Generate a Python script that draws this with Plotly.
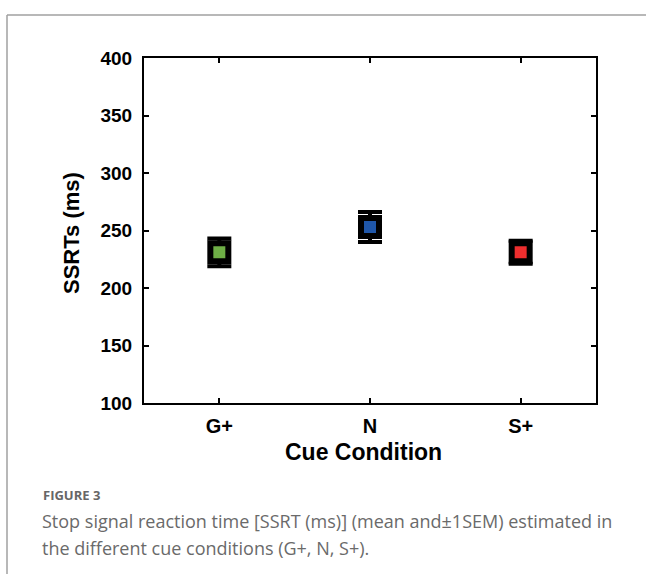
import plotly.graph_objects as go

# ---- data ----
conditions = ["G+", "N", "S+"]
ssrt_mean = [231, 253, 231]
ssrt_sem = [12, 13, 10]
marker_colors = ["#6EAE46", "#1F56A8", "#EE2E2E"]
y_ticks = [100, 150, 200, 250, 300, 350, 400]

W, H = 646, 574
L, R, T, B = 144, 50, 58, 171
PW, PH = W - L - R, H - T - B


def px_x(px):
    return (px - L) / PW


def px_y(py):
    return (H - B - py) / PH


fig = go.Figure()
fig.add_trace(go.Scatter(
    x=[1, 2, 3],
    y=ssrt_mean,
    mode="markers",
    marker=dict(symbol="square", size=18, color=marker_colors,
                line=dict(color="black", width=6)),
    error_y=dict(type="data", array=ssrt_sem, visible=True,
                 color="black", thickness=4, width=12),
    showlegend=False,
    hoverinfo="skip",
))

tick_font = dict(family="Liberation Sans, Arial, sans-serif", size=19, color="black")

fig.update_layout(
    width=W, height=H,
    margin=dict(l=L, r=R, t=T, b=B, pad=0),
    paper_bgcolor="white", plot_bgcolor="white",
    xaxis=dict(range=[0.5, 3.5], tickmode="array", tickvals=[1, 2, 3],
               ticktext=[f"<b>{c}</b>" for c in conditions],
               showgrid=False, zeroline=False, showline=True, linecolor="black",
               linewidth=2, mirror="ticks", ticks="inside", ticklen=5,
               tickwidth=2, tickcolor="black",
               tickfont=dict(family="Liberation Sans, Arial, sans-serif", size=20, color="black"),
               ticklabelstandoff=4),
    yaxis=dict(range=[100, 400], tickmode="array", tickvals=y_ticks,
               ticktext=[f"<b>{v}</b>" for v in y_ticks],
               showgrid=False, zeroline=False, showline=True, linecolor="black",
               linewidth=2, mirror="ticks", ticks="inside", ticklen=5,
               tickwidth=2, tickcolor="black", tickfont=tick_font,
               ticklabelstandoff=6),
    hovermode=False,
)

fig.add_annotation(text="<b>Cue Condition</b>", xref="paper", yref="paper",
                   x=px_x(363), y=px_y(452), xanchor="center", yanchor="middle",
                   showarrow=False,
                   font=dict(family="Liberation Sans, Arial, sans-serif", size=23, color="black"))
fig.add_annotation(text="<b>SSRTs (ms)</b>", xref="paper", yref="paper",
                   x=px_x(71), y=px_y(233), xanchor="center", yanchor="middle",
                   textangle=-90, showarrow=False,
                   font=dict(family="Liberation Sans, Arial, sans-serif", size=22, color="black"))

cap_font = dict(family="Open Sans, Noto Sans, sans-serif", size=18, color="#6A6A6A")
fig.add_annotation(text="<b>FIGURE 3</b>", xref="paper", yref="paper",
                   x=px_x(41), y=px_y(495), xanchor="left", yanchor="middle",
                   showarrow=False,
                   font=dict(family="Open Sans, Noto Sans, sans-serif", size=13, color="#666666"))
fig.add_annotation(text="Stop signal reaction time [SSRT (ms)] (mean and±1SEM) estimated in",
                   xref="paper", yref="paper", x=px_x(40), y=px_y(521),
                   xanchor="left", yanchor="middle", showarrow=False, font=cap_font)
fig.add_annotation(text="the different cue conditions (G+, N, S+).",
                   xref="paper", yref="paper", x=px_x(40), y=px_y(548),
                   xanchor="left", yanchor="middle", showarrow=False, font=cap_font)

# decorative frame (top and left gray rules)
fig.add_shape(type="line", xref="paper", yref="paper",
              x0=px_x(7), x1=px_x(W + 2), y0=px_y(15), y1=px_y(15),
              line=dict(color="#A0A0A0", width=1.5))
fig.add_shape(type="line", xref="paper", yref="paper",
              x0=px_x(7), x1=px_x(7), y0=px_y(15), y1=px_y(H + 2),
              line=dict(color="#A0A0A0", width=1.5))

fig.write_html("out.html")
